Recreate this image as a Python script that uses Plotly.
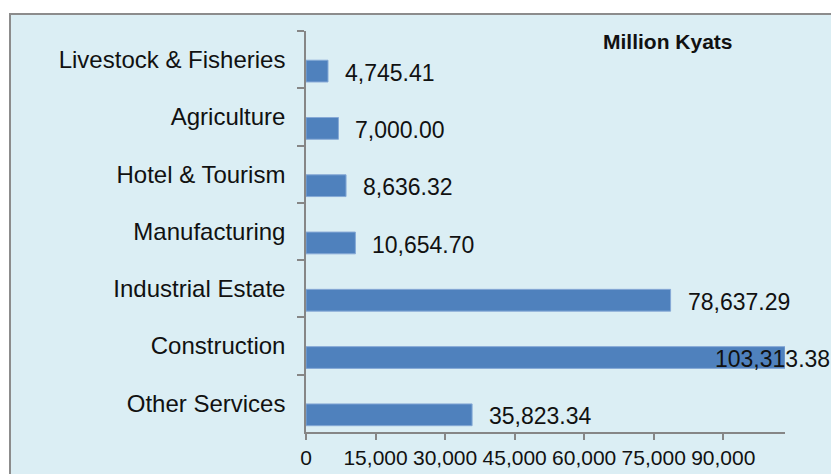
import plotly.graph_objects as go

# Investment by sector (million kyats), listed top to bottom
sectors = [
    "Livestock & Fisheries",
    "Agriculture",
    "Hotel & Tourism",
    "Manufacturing",
    "Industrial Estate",
    "Construction",
    "Other Services",
]
amounts = [4745.41, 7000.00, 8636.32, 10654.70, 78637.29, 103313.38, 35823.34]
x_ticks = [0, 15000, 30000, 45000, 60000, 75000, 90000]

W, H = 831, 474
M_L, M_R, M_T, M_B = 306, 46, 31, 42
PW, PH = W - M_L - M_R, H - M_T - M_B


def px_to_paper_x(px):
    return (px - M_L) / PW


def px_to_paper_y(py):
    return (H - M_B - py) / PH


BAR = "#4F81BD"
AXIS = "#868686"
BG = "#DBEEF4"
FONT = "Liberation Sans, Arial, sans-serif"

fig = go.Figure()
fig.add_trace(
    go.Bar(
        x=amounts,
        y=sectors,
        orientation="h",
        width=0.38,
        offset=0.01,
        marker=dict(color=BAR, line=dict(color="#86A9D6", width=1)),
        hoverinfo="x+y",
    )
)

x_max = max(amounts)

# value labels beside each bar
for name, v in zip(sectors, amounts):
    if v >= 0.9 * x_max:
        ann = dict(x=v, xanchor="right", xshift=47)
    else:
        ann = dict(x=v, xanchor="left", xshift=15)
    fig.add_annotation(
        y=name,
        yshift=-13,
        text=f"{v:,.2f}",
        showarrow=False,
        yanchor="middle",
        font=dict(family=FONT, size=23, color="#111111"),
        **ann,
    )

# unit caption
fig.add_annotation(
    xref="paper", yref="paper",
    x=px_to_paper_x(668), y=px_to_paper_y(41),
    xanchor="center", yanchor="middle",
    text="<b>Million Kyats</b>",
    showarrow=False,
    font=dict(family=FONT, size=21, color="#111111"),
)

# chart-area panel with a grey frame
fig.add_shape(
    type="rect", xref="paper", yref="paper",
    x0=px_to_paper_x(10), x1=px_to_paper_x(W + 20),
    y0=px_to_paper_y(H + 20), y1=px_to_paper_y(14),
    fillcolor=BG, line=dict(color="#8C8C8C", width=2),
    layer="below",
)

fig.update_layout(
    width=W, height=H,
    margin=dict(l=M_L, r=M_R, t=M_T, b=M_B, autoexpand=False),
    paper_bgcolor="white",
    plot_bgcolor="rgba(0,0,0,0)",
    showlegend=False,
    font=dict(family=FONT, color="#111111"),
    bargap=0.6,
)
fig.update_xaxes(
    automargin=False,
    range=[0, x_max],
    tickvals=x_ticks,
    tickformat=",d",
    showgrid=False,
    zeroline=False,
    showline=True, linecolor=AXIS, linewidth=1.5,
    ticks="outside", ticklen=6, tickcolor=AXIS, tickwidth=1.5,
    ticklabelstandoff=0,
    tickfont=dict(family=FONT, size=21, color="#111111"),
)
fig.update_yaxes(
    automargin=False,
    categoryorder="array", categoryarray=sectors,
    range=[len(sectors) - 0.5, -0.5],
    showgrid=False,
    zeroline=False,
    showline=True, linecolor=AXIS, linewidth=1.5,
    ticks="outside", tickson="boundaries", ticklen=7, tickcolor=AXIS, tickwidth=1.5,
    ticklabelstandoff=14,
    tickfont=dict(family=FONT, size=24, color="#111111"),
)

fig.write_html("out.html")
